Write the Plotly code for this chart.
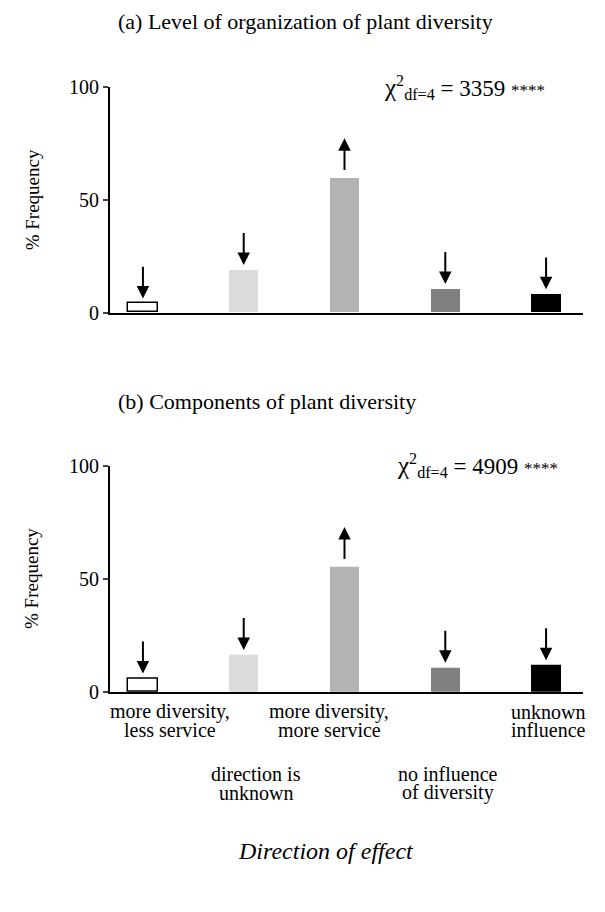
import plotly.graph_objects as go

categories = ["more diversity, less service", "direction is unknown",
              "more diversity, more service", "no influence of diversity",
              "unknown influence"]
label_lines = [["more diversity,", "less service"], ["direction is", "unknown"],
               ["more diversity,", "more service"], ["no influence", "of diversity"],
               ["unknown", "influence"]]
values_a = [4.0, 18.9, 59.8, 10.5, 8.1]
values_b = [6.0, 16.4, 55.4, 10.8, 11.9]
directions = ["down", "down", "up", "down", "down"]
chi_a = 3359
chi_b = 4909
panel_titles = ["(a) Level of organization of plant diversity",
                "(b) Components of plant diversity"]
y_ticks = [0, 50, 100]

bar_colors = ["white", "#dcdcdc", "#b3b3b3", "#808080", "black"]
FONT = "Liberation Serif, Times New Roman, serif"
W, H = 605, 912

xpos = list(range(len(categories)))

fig = go.Figure()
for i, (vals, xa, ya) in enumerate([(values_a, "x", "y"), (values_b, "x2", "y2")]):
    fig.add_trace(go.Bar(x=xpos, y=vals, xaxis=xa, yaxis=ya, width=0.29,
                         marker=dict(color=bar_colors, line=dict(color="black", width=[1.5, 0, 0, 0, 0])),
                         showlegend=False, hoverinfo="skip"))

def px_x(p):
    return p / W

def px_y(p):
    return 1 - p / H

x_left, x_right = 110, 583
bar0_px, step_px = 143, 101
x_range = [-(bar0_px - x_left) / step_px, 4 + (x_right - 546) / step_px]
x_dom = [px_x(x_left), px_x(x_right)]
axis_common = dict(showline=True, linecolor="black", linewidth=2, zeroline=False,
                   showgrid=False)
fig.update_layout(
    width=W, height=H, margin=dict(l=0, r=0, t=0, b=0),
    paper_bgcolor="white", plot_bgcolor="white",
    font=dict(family=FONT, color="black", size=20),
    bargap=0,
    xaxis=dict(domain=x_dom, range=x_range, showticklabels=False, ticks="",
               anchor="y", **axis_common),
    yaxis=dict(domain=[px_y(309), px_y(78)], range=[0, 100], tickvals=y_ticks,
               ticks="outside", ticklen=5, tickwidth=2, tickfont=dict(size=20),
               anchor="x", **axis_common),
    xaxis2=dict(domain=x_dom, range=x_range, showticklabels=False, ticks="",
                anchor="y2", **axis_common),
    yaxis2=dict(domain=[px_y(698), px_y(466)], range=[0, 100], tickvals=y_ticks,
                ticks="outside", ticklen=5, tickwidth=2, tickfont=dict(size=20),
                anchor="x2", **axis_common),
)

ann = []
for t, yp in zip(panel_titles, [11, 400]):
    ann.append(dict(text=t, x=px_x(116), y=px_y(yp), xref="paper", yref="paper",
                    xanchor="left", yanchor="middle", showarrow=False,
                    font=dict(size=22)))
for yp in [194, 582]:
    ann.append(dict(text="% Frequency", x=px_x(32), y=px_y(yp), xref="paper", yref="paper",
                    xanchor="center", yanchor="middle", textangle=-90, showarrow=False,
                    font=dict(size=19)))
for chi, yr, xp in [(chi_a, "y", 547), (chi_b, "y2", 560)]:
    ann.append(dict(text="<span style='font-size:25px'>χ</span><sup>2</sup><sub>df=4</sub> = %d <span style='font-size:17px'>****</span>" % chi,
                    x=px_x(xp), y=100, xref="paper", yref=yr, xanchor="right",
                    yanchor="middle", showarrow=False, font=dict(size=23)))
for vals, xr, yr in [(values_a, "x", "y"), (values_b, "x2", "y2")]:
    for i, (v, d) in enumerate(zip(vals, directions)):
        if d == "down":
            tip, tail = v + 2.2, v + 17
        else:
            tip, tail = v + 17.5, v + 2.8
        ann.append(dict(x=i, y=tip, ax=i, ay=tail, xref=xr, yref=yr, axref=xr, ayref=yr,
                        text="", showarrow=True, arrowhead=2, arrowsize=1.25,
                        arrowwidth=2, arrowcolor="black"))
# category labels, staggered as in the original figure
label_x_px = [170, 256, 329, 448, 548]
label_y_px = [718, 782, 718, 782, 718]
for lines, xp, yp in zip(label_lines, label_x_px, label_y_px):
    for j, ln in enumerate(lines):
        ann.append(dict(text=ln, x=px_x(xp), y=px_y(yp + 19 * j), xref="paper", yref="paper",
                        xanchor="center", yanchor="middle", showarrow=False,
                        font=dict(size=20)))
ann.append(dict(text="<i>Direction of effect</i>", x=px_x(326), y=px_y(861),
                xref="paper", yref="paper", xanchor="center", yanchor="middle",
                showarrow=False, font=dict(size=24)))
fig.update_layout(annotations=ann)

fig.write_html("out.html", config={"displayModeBar": False},
               post_script="document.body.style.margin='0';")
